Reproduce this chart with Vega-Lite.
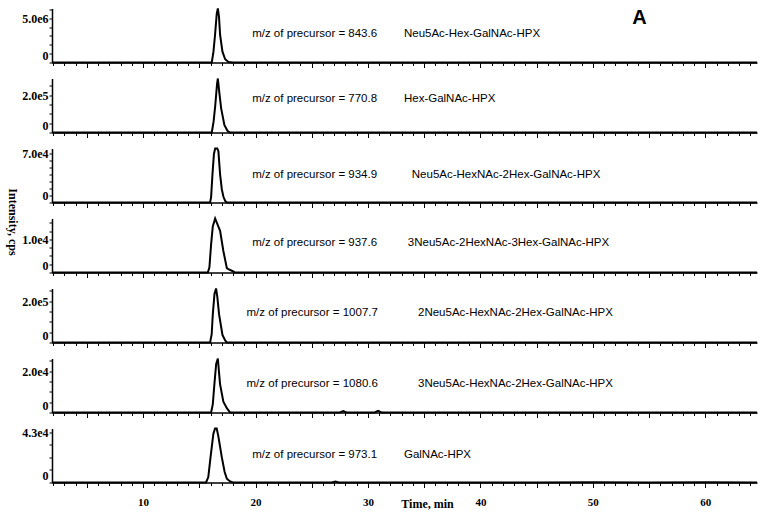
{
  "$schema": "https://vega.github.io/schema/vega-lite/v6.json",
  "background": "white",
  "padding": {"left": 5, "top": 4.5, "right": 5, "bottom": 5},
  "bounds": "flush",
  "spacing": 16,
  "config": {
    "view": {"stroke": null},
    "axis": {"grid": false, "domainColor": "black", "tickColor": "black", "labelColor": "black", "labelFont": "Liberation Serif", "labelFontWeight": "bold", "titleFont": "Liberation Serif", "titleFontWeight": "bold", "titleColor": "black", "titleFontSize": 12, "domainWidth": 1.5, "tickWidth": 1, "labelFontSize": 12},
    "axisY": {"labelBaseline": {"condition": {"test": "datum.value == 0", "value": "bottom"}, "value": "middle"}, "labelPadding": 1, "tickSize": 3},
    "text": {"font": "Liberation Sans", "fontSize": 11.5, "color": "black", "align": "left", "baseline": "middle"},
    "line": {"color": "black", "strokeWidth": 2}
  },
  "datasets": {
    "trace": [
      {"p":1,"t":1.9,"v":0},{"p":1,"t":15.9,"v":0},{"p":1,"t":16.11,"v":0},{"p":1,"t":16.26,"v":1220000},{"p":1,"t":16.4,"v":3110000},{"p":1,"t":16.55,"v":5490000},{"p":1,"t":16.65,"v":6100000},{"p":1,"t":16.75,"v":5190000},{"p":1,"t":16.85,"v":3110000},{"p":1,"t":17.06,"v":1220000},{"p":1,"t":17.3,"v":370000},{"p":1,"t":17.6,"v":60000},{"p":1,"t":18,"v":0},{"p":1,"t":64.6,"v":0},
      {"p":2,"t":1.9,"v":0},{"p":2,"t":16.11,"v":0},{"p":2,"t":16.27,"v":58000},{"p":2,"t":16.42,"v":145000},{"p":2,"t":16.58,"v":261000},{"p":2,"t":16.65,"v":290000},{"p":2,"t":16.75,"v":232000},{"p":2,"t":16.94,"v":131000},{"p":2,"t":17.23,"v":41000},{"p":2,"t":17.5,"v":9000},{"p":2,"t":17.74,"v":0},{"p":2,"t":64.6,"v":0},
      {"p":3,"t":1.9,"v":0},{"p":3,"t":15.96,"v":0},{"p":3,"t":16.05,"v":7700},{"p":3,"t":16.17,"v":40000},{"p":3,"t":16.3,"v":69000},{"p":3,"t":16.41,"v":77000},{"p":3,"t":16.6,"v":77000},{"p":3,"t":16.7,"v":73000},{"p":3,"t":16.85,"v":40000},{"p":3,"t":17.0,"v":19000},{"p":3,"t":17.14,"v":8500},{"p":3,"t":17.3,"v":2300},{"p":3,"t":17.45,"v":0},{"p":3,"t":64.6,"v":0},
      {"p":4,"t":1.9,"v":0},{"p":4,"t":15.76,"v":0},{"p":4,"t":15.9,"v":1600},{"p":4,"t":16.05,"v":8500},{"p":4,"t":16.2,"v":13900},{"p":4,"t":16.41,"v":16300},{"p":4,"t":16.6,"v":14700},{"p":4,"t":16.85,"v":12600},{"p":4,"t":17.14,"v":6500},{"p":4,"t":17.45,"v":1300},{"p":4,"t":17.59,"v":1000},{"p":4,"t":18.03,"v":300},{"p":4,"t":18.18,"v":0},{"p":4,"t":64.6,"v":0},
      {"p":5,"t":1.9,"v":0},{"p":5,"t":15.96,"v":0},{"p":5,"t":16.1,"v":39000},{"p":5,"t":16.2,"v":136000},{"p":5,"t":16.35,"v":236000},{"p":5,"t":16.49,"v":262000},{"p":5,"t":16.6,"v":223000},{"p":5,"t":16.76,"v":136000},{"p":5,"t":17.06,"v":37000},{"p":5,"t":17.3,"v":10000},{"p":5,"t":17.45,"v":0},{"p":5,"t":64.6,"v":0},
      {"p":6,"t":1.9,"v":0},{"p":6,"t":16.05,"v":0},{"p":6,"t":16.2,"v":3900},{"p":6,"t":16.34,"v":13600},{"p":6,"t":16.5,"v":23600},{"p":6,"t":16.65,"v":26200},{"p":6,"t":16.75,"v":19700},{"p":6,"t":16.85,"v":13600},{"p":6,"t":17.14,"v":5200},{"p":6,"t":17.45,"v":2100},{"p":6,"t":17.74,"v":0},{"p":6,"t":27.5,"v":0},{"p":6,"t":27.8,"v":650},{"p":6,"t":28.1,"v":0},{"p":6,"t":30.6,"v":0},{"p":6,"t":30.9,"v":800},{"p":6,"t":31.2,"v":0},{"p":6,"t":64.6,"v":0},
      {"p":7,"t":1.9,"v":0},{"p":7,"t":15.6,"v":0},{"p":7,"t":15.8,"v":4600},{"p":7,"t":16.0,"v":21600},{"p":7,"t":16.25,"v":41400},{"p":7,"t":16.4,"v":46000},{"p":7,"t":16.55,"v":46000},{"p":7,"t":16.7,"v":39100},{"p":7,"t":17.0,"v":21600},{"p":7,"t":17.25,"v":9200},{"p":7,"t":17.45,"v":3200},{"p":7,"t":17.74,"v":900},{"p":7,"t":18,"v":0},{"p":7,"t":26.8,"v":0},{"p":7,"t":27.1,"v":900},{"p":7,"t":27.4,"v":0},{"p":7,"t":45,"v":0},{"p":7,"t":50,"v":200},{"p":7,"t":55,"v":0},{"p":7,"t":60,"v":200},{"p":7,"t":64.6,"v":0}
    ]
  },
  "vconcat": [
    {
      "width": 705, "height": 54,
      "resolve": {"axis": {"x": "independent", "y": "independent"}},
      "layer": [
        {"data": {"name": "trace"}, "transform": [{"filter": "datum.p == 1"}], "mark": "line",
         "encoding": {
           "x": {"field": "t", "type": "quantitative", "scale": {"domain": [1.9, 64.6], "zero": false, "nice": false}, "axis": {"orient": "bottom", "title": null, "labels": false, "ticks": false, "values": []}},
           "y": {"field": "v", "type": "quantitative", "scale": {"domain": [0, 6100000], "nice": false}, "axis": {"orient": "left", "title": null, "values": [0, 5000000], "labelExpr": "datum.value == 0 ? '0' : '5.0e6'"}}
         }},
        {"data": {"values": [{"s": "m/z of precursor = 843.6"}]}, "mark": "text", "encoding": {
           "x": {"datum": 19.7, "type": "quantitative", "axis": {"orient": "bottom", "title": null, "labels": false, "domain": false, "values": [2,3,4,5,6,7,8,9,10,11,12,13,14,15,16,17,18,19,20,21,22,23,24,25,26,27,28,29,30,31,32,33,34,35,36,37,38,39,40,41,42,43,44,45,46,47,48,49,50,51,52,53,54,55,56,57,58,59,60,61,62,63,64], "tickSize": {"condition": {"test": "datum.value % 5 === 0", "value": 5}, "value": 3}}},
           "y": {"datum": 3230000, "type": "quantitative", "axis": {"orient": "left", "title": null, "labels": false, "domain": false, "values": [1000000,2000000,3000000,4000000,6000000]}},
           "text": {"field": "s"}}},
        {"data": {"values": [{"s": "Neu5Ac-Hex-GalNAc-HPX"}]}, "mark": "text", "encoding": {"x": {"datum": 33.2, "type": "quantitative", "axis": null}, "y": {"datum": 3230000, "type": "quantitative", "axis": null}, "text": {"field": "s"}}},
        {"data": {"values": [{"s": "A"}]}, "mark": {"type": "text", "fontSize": 20, "fontWeight": "bold"}, "encoding": {"x": {"datum": 53.5, "type": "quantitative", "axis": null}, "y": {"datum": 5060000, "type": "quantitative", "axis": null}, "text": {"field": "s"}}}
      ]
    },
    {
      "width": 705, "height": 54,
      "resolve": {"axis": {"x": "independent", "y": "independent"}},
      "layer": [
        {"data": {"name": "trace"}, "transform": [{"filter": "datum.p == 2"}], "mark": "line",
         "encoding": {
           "x": {"field": "t", "type": "quantitative", "scale": {"domain": [1.9, 64.6], "zero": false, "nice": false}, "axis": {"orient": "bottom", "title": null, "labels": false, "ticks": false, "values": []}},
           "y": {"field": "v", "type": "quantitative", "scale": {"domain": [0, 290000], "nice": false}, "axis": {"orient": "left", "title": null, "values": [0, 200000], "labelExpr": "datum.value == 0 ? '0' : '2.0e5'"}}
         }},
        {"data": {"values": [{"s": "m/z of precursor = 770.8"}]}, "mark": "text", "encoding": {
           "x": {"datum": 19.7, "type": "quantitative", "axis": {"orient": "bottom", "title": null, "labels": false, "domain": false, "values": [2,3,4,5,6,7,8,9,10,11,12,13,14,15,16,17,18,19,20,21,22,23,24,25,26,27,28,29,30,31,32,33,34,35,36,37,38,39,40,41,42,43,44,45,46,47,48,49,50,51,52,53,54,55,56,57,58,59,60,61,62,63,64], "tickSize": {"condition": {"test": "datum.value % 5 === 0", "value": 5}, "value": 3}}},
           "y": {"datum": 180000, "type": "quantitative", "axis": {"orient": "left", "title": null, "labels": false, "domain": false, "values": [50000,100000,150000,250000]}},
           "text": {"field": "s"}}},
        {"data": {"values": [{"s": "Hex-GalNAc-HPX"}]}, "mark": "text", "encoding": {"x": {"datum": 33.2, "type": "quantitative", "axis": null}, "y": {"datum": 180000, "type": "quantitative", "axis": null}, "text": {"field": "s"}}}
      ]
    },
    {
      "width": 705, "height": 54,
      "resolve": {"axis": {"x": "independent", "y": "independent"}},
      "layer": [
        {"data": {"name": "trace"}, "transform": [{"filter": "datum.p == 3"}], "mark": "line",
         "encoding": {
           "x": {"field": "t", "type": "quantitative", "scale": {"domain": [1.9, 64.6], "zero": false, "nice": false}, "axis": {"orient": "bottom", "title": null, "labels": false, "ticks": false, "values": []}},
           "y": {"field": "v", "type": "quantitative", "scale": {"domain": [0, 77000], "nice": false}, "axis": {"orient": "left", "title": null, "values": [0, 70000], "labelExpr": "datum.value == 0 ? '0' : '7.0e4'"}}
         }},
        {"data": {"values": [{"s": "m/z of precursor = 934.9"}]}, "mark": "text", "encoding": {
           "x": {"datum": 19.7, "type": "quantitative", "axis": {"orient": "bottom", "title": null, "labels": false, "domain": false, "values": [2,3,4,5,6,7,8,9,10,11,12,13,14,15,16,17,18,19,20,21,22,23,24,25,26,27,28,29,30,31,32,33,34,35,36,37,38,39,40,41,42,43,44,45,46,47,48,49,50,51,52,53,54,55,56,57,58,59,60,61,62,63,64], "tickSize": {"condition": {"test": "datum.value % 5 === 0", "value": 5}, "value": 3}}},
           "y": {"datum": 39300, "type": "quantitative", "axis": {"orient": "left", "title": null, "labels": false, "domain": false, "values": [10000,20000,30000,40000,50000,60000]}},
           "text": {"field": "s"}}},
        {"data": {"values": [{"s": "Neu5Ac-HexNAc-2Hex-GalNAc-HPX"}]}, "mark": "text", "encoding": {"x": {"datum": 33.9, "type": "quantitative", "axis": null}, "y": {"datum": 39300, "type": "quantitative", "axis": null}, "text": {"field": "s"}}}
      ]
    },
    {
      "width": 705, "height": 54,
      "resolve": {"axis": {"x": "independent", "y": "independent"}},
      "layer": [
        {"data": {"name": "trace"}, "transform": [{"filter": "datum.p == 4"}], "mark": "line",
         "encoding": {
           "x": {"field": "t", "type": "quantitative", "scale": {"domain": [1.9, 64.6], "zero": false, "nice": false}, "axis": {"orient": "bottom", "title": null, "labels": false, "ticks": false, "values": []}},
           "y": {"field": "v", "type": "quantitative", "scale": {"domain": [0, 16300], "nice": false}, "axis": {"orient": "left", "title": "Intensity, cps", "titleAngle": 90, "titleX": -40, "titleY": 3, "titleAlign": "center", "titleBaseline": "middle", "values": [0, 10000], "labelExpr": "datum.value == 0 ? '0' : '1.0e4'"}}
         }},
        {"data": {"values": [{"s": "m/z of precursor = 937.6"}]}, "mark": "text", "encoding": {
           "x": {"datum": 19.7, "type": "quantitative", "axis": {"orient": "bottom", "title": null, "labels": false, "domain": false, "values": [2,3,4,5,6,7,8,9,10,11,12,13,14,15,16,17,18,19,20,21,22,23,24,25,26,27,28,29,30,31,32,33,34,35,36,37,38,39,40,41,42,43,44,45,46,47,48,49,50,51,52,53,54,55,56,57,58,59,60,61,62,63,64], "tickSize": {"condition": {"test": "datum.value % 5 === 0", "value": 5}, "value": 3}}},
           "y": {"datum": 8970, "type": "quantitative", "axis": {"orient": "left", "title": null, "labels": false, "domain": false, "values": [2500,5000,7500,12500,15000]}},
           "text": {"field": "s"}}},
        {"data": {"values": [{"s": "3Neu5Ac-2HexNAc-3Hex-GalNAc-HPX"}]}, "mark": "text", "encoding": {"x": {"datum": 33.55, "type": "quantitative", "axis": null}, "y": {"datum": 8970, "type": "quantitative", "axis": null}, "text": {"field": "s"}}}
      ]
    },
    {
      "width": 705, "height": 54,
      "resolve": {"axis": {"x": "independent", "y": "independent"}},
      "layer": [
        {"data": {"name": "trace"}, "transform": [{"filter": "datum.p == 5"}], "mark": "line",
         "encoding": {
           "x": {"field": "t", "type": "quantitative", "scale": {"domain": [1.9, 64.6], "zero": false, "nice": false}, "axis": {"orient": "bottom", "title": null, "labels": false, "ticks": false, "values": []}},
           "y": {"field": "v", "type": "quantitative", "scale": {"domain": [0, 262000], "nice": false}, "axis": {"orient": "left", "title": null, "values": [0, 200000], "labelExpr": "datum.value == 0 ? '0' : '2.0e5'"}}
         }},
        {"data": {"values": [{"s": "m/z of precursor = 1007.7"}]}, "mark": "text", "encoding": {
           "x": {"datum": 19.2, "type": "quantitative", "axis": {"orient": "bottom", "title": null, "labels": false, "domain": false, "values": [2,3,4,5,6,7,8,9,10,11,12,13,14,15,16,17,18,19,20,21,22,23,24,25,26,27,28,29,30,31,32,33,34,35,36,37,38,39,40,41,42,43,44,45,46,47,48,49,50,51,52,53,54,55,56,57,58,59,60,61,62,63,64], "tickSize": {"condition": {"test": "datum.value % 5 === 0", "value": 5}, "value": 3}}},
           "y": {"datum": 144000, "type": "quantitative", "axis": {"orient": "left", "title": null, "labels": false, "domain": false, "values": [50000,100000,150000,250000]}},
           "text": {"field": "s"}}},
        {"data": {"values": [{"s": "2Neu5Ac-HexNAc-2Hex-GalNAc-HPX"}]}, "mark": "text", "encoding": {"x": {"datum": 34.45, "type": "quantitative", "axis": null}, "y": {"datum": 144000, "type": "quantitative", "axis": null}, "text": {"field": "s"}}}
      ]
    },
    {
      "width": 705, "height": 54,
      "resolve": {"axis": {"x": "independent", "y": "independent"}},
      "layer": [
        {"data": {"name": "trace"}, "transform": [{"filter": "datum.p == 6"}], "mark": "line",
         "encoding": {
           "x": {"field": "t", "type": "quantitative", "scale": {"domain": [1.9, 64.6], "zero": false, "nice": false}, "axis": {"orient": "bottom", "title": null, "labels": false, "ticks": false, "values": []}},
           "y": {"field": "v", "type": "quantitative", "scale": {"domain": [0, 26200], "nice": false}, "axis": {"orient": "left", "title": null, "values": [0, 20000], "labelExpr": "datum.value == 0 ? '0' : '2.0e4'"}}
         }},
        {"data": {"values": [{"s": "m/z of precursor = 1080.6"}]}, "mark": "text", "encoding": {
           "x": {"datum": 19.2, "type": "quantitative", "axis": {"orient": "bottom", "title": null, "labels": false, "domain": false, "values": [2,3,4,5,6,7,8,9,10,11,12,13,14,15,16,17,18,19,20,21,22,23,24,25,26,27,28,29,30,31,32,33,34,35,36,37,38,39,40,41,42,43,44,45,46,47,48,49,50,51,52,53,54,55,56,57,58,59,60,61,62,63,64], "tickSize": {"condition": {"test": "datum.value % 5 === 0", "value": 5}, "value": 3}}},
           "y": {"datum": 13900, "type": "quantitative", "axis": {"orient": "left", "title": null, "labels": false, "domain": false, "values": [5000,10000,15000,25000]}},
           "text": {"field": "s"}}},
        {"data": {"values": [{"s": "3Neu5Ac-HexNAc-2Hex-GalNAc-HPX"}]}, "mark": "text", "encoding": {"x": {"datum": 34.45, "type": "quantitative", "axis": null}, "y": {"datum": 13900, "type": "quantitative", "axis": null}, "text": {"field": "s"}}}
      ]
    },
    {
      "width": 705, "height": 54,
      "resolve": {"axis": {"x": "independent", "y": "independent"}},
      "layer": [
        {"data": {"name": "trace"}, "transform": [{"filter": "datum.p == 7"}], "mark": "line",
         "encoding": {
           "x": {"field": "t", "type": "quantitative", "scale": {"domain": [1.9, 64.6], "zero": false, "nice": false}, "axis": {"orient": "bottom", "title": "Time, min", "titleX": 375, "titleY": 21, "titleAlign": "center", "titleBaseline": "middle", "labelFontSize": 11, "labelPadding": 14, "ticks": false, "values": [10,20,30,40,50,60], "labelExpr": "datum.label"}},
           "y": {"field": "v", "type": "quantitative", "scale": {"domain": [0, 46000], "nice": false}, "axis": {"orient": "left", "title": null, "values": [0, 43000], "labelExpr": "datum.value == 0 ? '0' : '4.3e4'"}}
         }},
        {"data": {"values": [{"s": "m/z of precursor = 973.1"}]}, "mark": "text", "encoding": {
           "x": {"datum": 19.7, "type": "quantitative", "axis": {"orient": "bottom", "title": null, "labels": false, "domain": false, "values": [2,3,4,5,6,7,8,9,10,11,12,13,14,15,16,17,18,19,20,21,22,23,24,25,26,27,28,29,30,31,32,33,34,35,36,37,38,39,40,41,42,43,44,45,46,47,48,49,50,51,52,53,54,55,56,57,58,59,60,61,62,63,64], "tickSize": {"condition": {"test": "datum.value % 5 === 0", "value": 5}, "value": 3}}},
           "y": {"datum": 23500, "type": "quantitative", "axis": {"orient": "left", "title": null, "labels": false, "domain": false, "values": [10750,21500,32250]}},
           "text": {"field": "s"}}},
        {"data": {"values": [{"s": "GalNAc-HPX"}]}, "mark": "text", "encoding": {"x": {"datum": 33.2, "type": "quantitative", "axis": null}, "y": {"datum": 23500, "type": "quantitative", "axis": null}, "text": {"field": "s"}}}
      ]
    }
  ]
}
